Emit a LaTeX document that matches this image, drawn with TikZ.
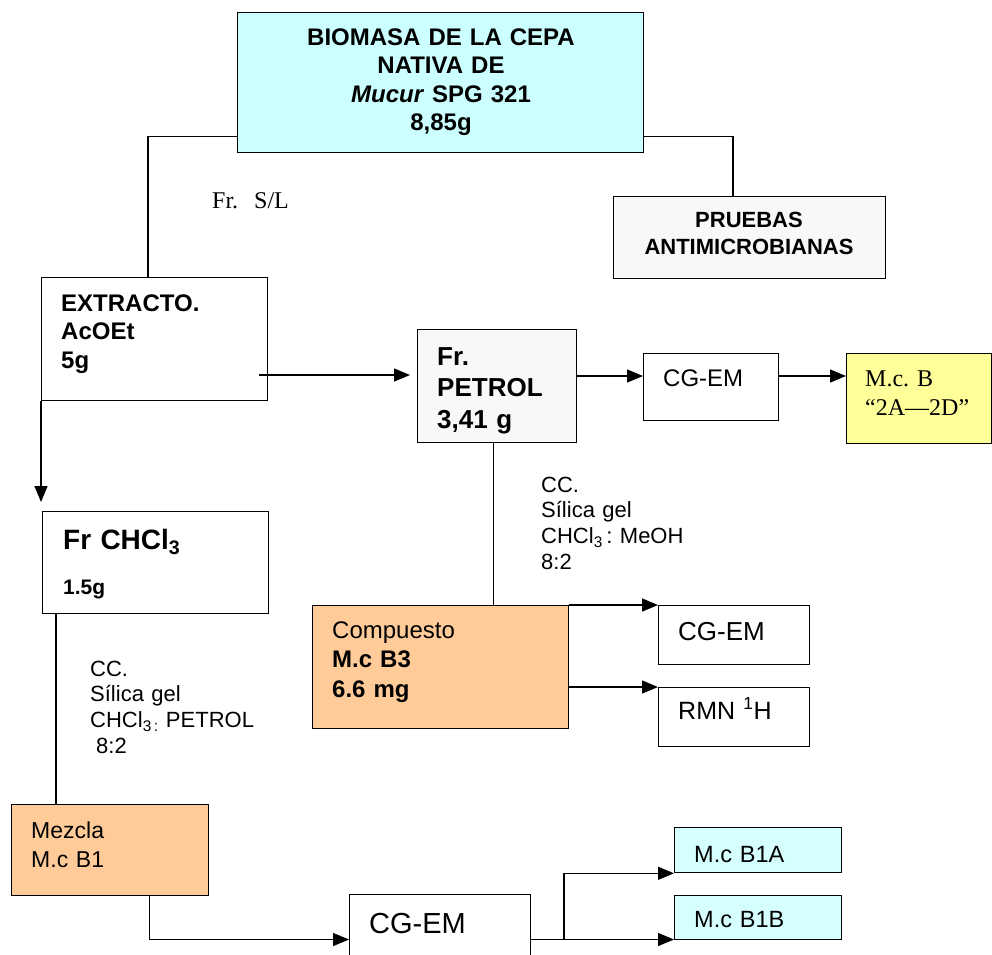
\documentclass[tikz,border=0pt]{standalone}
\usepackage{fontspec}
\setmainfont{Liberation Sans}
\newfontfamily\serifft{Liberation Serif}
\usetikzlibrary{arrows.meta}
\frenchspacing
\definecolor{cyanA}{HTML}{CCFFFF}
\definecolor{cyanB}{HTML}{D6FFFF}
\definecolor{grayA}{HTML}{F8F8F8}
\definecolor{yellowA}{HTML}{FFFF99}
\definecolor{orangeA}{HTML}{FFCC99}
\tikzset{
  box/.style={draw, line width=1.3pt, inner sep=0pt, anchor=north west},
  lbl/.style={inner sep=0pt, anchor=base west, align=left, text width=#1},
  lbl/.default=300pt,
  conn/.style={line width=1.3pt},
  arr/.style={line width=1.3pt, -{Triangle[length=16pt,width=13pt]}},
}
\newcommand{\fs}[2]{\fontsize{#1}{#2}\selectfont}
\begin{document}
\begin{tikzpicture}[x=1pt,y=-1pt]
\useasboundingbox (0,0) rectangle (992,954);
% boxes
\node[box, fill=cyanA, minimum width=406pt, minimum height=140pt] (top) at (237,12) {};
\node[box, fill=grayA, minimum width=272pt, minimum height=82pt] (prue) at (613,196) {};
\node[box, minimum width=226pt, minimum height=123pt] (ext) at (41,277) {};
\node[box, fill=grayA, minimum width=159pt, minimum height=113pt] (pet) at (417,329) {};
\node[box, minimum width=135pt, minimum height=67pt] (cg1) at (643,353) {};
\node[box, fill=yellowA, minimum width=145pt, minimum height=90pt] (mcb) at (846,353) {};
\node[box, minimum width=226pt, minimum height=102pt] (chcl) at (42,511) {};
\node[box, fill=orangeA, minimum width=256pt, minimum height=123pt] (comp) at (312,605) {};
\node[box, minimum width=151pt, minimum height=59pt] (cg2) at (658,605) {};
\node[box, minimum width=151pt, minimum height=59pt] (rmn) at (658,687) {};
\node[box, fill=orangeA, minimum width=197pt, minimum height=91pt] (mez) at (11,804) {};
\node[box, minimum width=181pt, minimum height=66pt] (cg3) at (349,894) {};
\node[box, fill=cyanB, minimum width=167pt, minimum height=45pt] (b1a) at (674,827) {};
\node[box, fill=cyanB, minimum width=167pt, minimum height=44pt] (b1b) at (674,895) {};
% texts
\node[inner sep=0pt, anchor=base, text width=400pt, align=center, font=\fs{24}{28.5}\bfseries] (ttop) at (441,45)
  {BIOMASA DE LA CEPA\\NATIVA DE\\\textit{Mucur} SPG 321\\8,85g};
\node[inner sep=0pt, anchor=base, text width=270pt, align=center, font=\fs{22}{27}\bfseries] (tprue) at (749,227)
  {PRUEBAS\\ANTIMICROBIANAS};
\node[lbl, font=\fs{24}{28}\serifft] (tsl) at (212,208) {Fr.\ \ S/L};
\node[lbl, font=\fs{24}{28.5}\bfseries] (text) at (61,311) {EXTRACTO.\\AcOEt\\5g};
\node[lbl, font=\fs{26}{31.5}\bfseries] (tpet) at (437,365) {Fr.\\PETROL\\3,41 g};
\node[lbl, font=\fs{24}{28}] (tcg1) at (663,386) {CG-EM};
\node[lbl, font=\fs{24}{29}\serifft] (tmcb) at (865,386) {M.c. B\\“2A—2D”};
\node[lbl, font=\fs{22}{25.9}] (tccr) at (541,492) {CC.\\Sílica gel\\CHCl\textsubscript{3}\,: MeOH\\8:2};
\node[lbl, font=\fs{24}{29.5}] (tcomp) at (332,638) {Compuesto\\\textbf{M.c B3}\\\textbf{6.6 mg}};
\node[lbl, font=\fs{26}{30}] (tcg2) at (678,640) {CG-EM};
\node[lbl, font=\fs{25}{30}] (trmn) at (678,719) {RMN \textsuperscript{1}H};
\node[lbl, font=\fs{28}{32}\bfseries] (tchcl) at (63,549) {Fr CHCl\textsubscript{3}};
\node[lbl, font=\fs{21}{25}\bfseries] (tg15) at (63,594) {1.5g};
\node[lbl, font=\fs{22}{25.7}] (tccl) at (90,676) {CC.\\Sílica gel\\CHCl\textsubscript{3\,:} PETROL\\\hspace*{6pt}8:2};
\node[lbl, font=\fs{23}{29}] (tmez) at (31,838) {Mezcla\\M.c B1};
\node[lbl, font=\fs{29}{33}] (tcg3) at (369,933) {CG-EM};
\node[lbl, font=\fs{23.5}{28}] (tb1a) at (694,862) {M.c B1A};
\node[lbl, font=\fs{23.5}{28}] (tb1b) at (694,927) {M.c B1B};
% connectors
\coordinate (r1) at (0,376);
\coordinate (a1) at (259,375);
\coordinate (r3) at (0,939.5);
\coordinate (j) at (564,939.5);
\draw[conn] ([yshift=17pt]top.south west) -| ([xshift=107pt]ext.north west);
\draw[conn] ([yshift=17pt]top.south east) -| ([xshift=120pt]prue.north west);
\draw[arr, shorten >=7pt] (a1) -- (a1 -| pet.west);
\draw[arr] (pet.east |- r1) -- (cg1.west |- r1);
\draw[arr] (cg1.east |- r1) -- (mcb.west |- r1);
\draw[conn] ([xshift=-3.5pt]pet.south) -- ([xshift=-3.5pt]pet.south |- comp.north);
\draw[arr] (comp.north east) -- (cg2.north west);
\draw[arr] (comp.east |- rmn.north) -- (rmn.north west);
\draw[arr, shorten >=9pt] (ext.south west) -- (ext.south west |- chcl.north);
\draw[conn] ([xshift=14pt]chcl.south west) -- ([xshift=14pt]chcl.south west |- mez.north);
\draw[arr] ([xshift=-60pt]mez.south east) |- (cg3.west |- r3);
\draw[arr] (cg3.east |- r3) -- (b1b.west |- r3);
\draw[arr] (j) |- (b1a.south west);
\end{tikzpicture}
\end{document}
